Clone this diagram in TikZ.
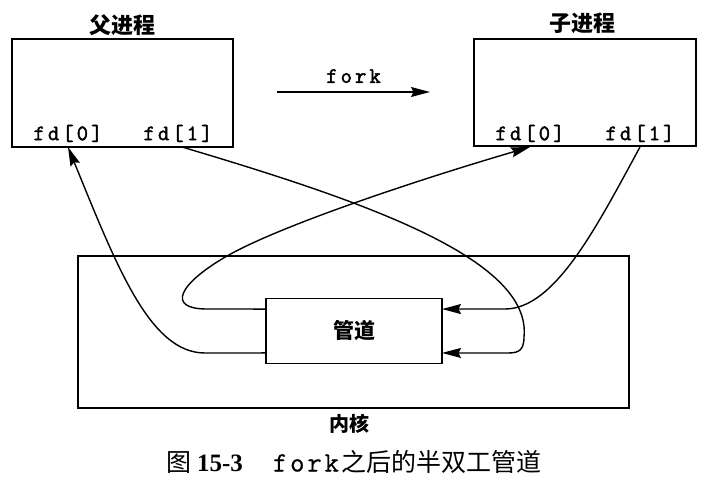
\documentclass[tikz,border=0pt]{standalone}
\usepackage{fontspec}
\newfontfamily\cjk{Noto Sans CJK SC}
\newfontfamily\code{Latin Modern Mono}[LetterSpace=14,FakeBold=2]
\newfontfamily\capcode{Latin Modern Mono}[LetterSpace=10,FakeBold=0.5]
\newfontfamily\capnum{Liberation Serif}
\usetikzlibrary{arrows.meta}

\begin{document}
\begin{tikzpicture}[x=1pt,y=1pt,line width=1.4pt,
  procbox/.style={draw,rectangle,inner sep=0pt,outer sep=0pt},
  proctitle/.style={font=\cjk\bfseries\fontsize{22}{24}\selectfont,inner sep=0pt},
  fdtext/.style={font=\code\fontsize{22}{24}\selectfont,
    anchor=south,inner xsep=0pt,inner ysep=5pt,outer sep=0pt},
  flow/.style={-{Stealth[length=19pt,width=10pt,inset=2.5pt]}}]
\useasboundingbox (0,0) rectangle (703,483);
% the two processes
\node[procbox,minimum width=221pt,minimum height=108pt] (par) at (122.5,390) {};
\node[procbox,minimum width=222pt,minimum height=107pt] (chi) at (585,390.5) {};
\node[proctitle] (partitle) at (122,458) {父进程};
\node[proctitle] (chititle) at (582,460) {子进程};
\node[fdtext] (pfd0) at (68,336) {fd[0]};
\node[fdtext] (pfd1) at (178,336) {fd[1]};
\node[fdtext] (cfd0) at (530,336) {fd[0]};
\node[fdtext] (cfd1) at (640,336) {fd[1]};
% fork
\coordinate (forka) at (277,391);
\coordinate (forkb) at (430,391);
\draw[flow] (forka) -- node[fdtext,inner ysep=0pt,above=9pt] (forklabel) {fork} (forkb);
% kernel and pipe
\node[procbox,minimum width=551pt,minimum height=152pt] (kern) at (353.5,151) {};
\node[procbox,minimum width=176pt,minimum height=65pt,font=\cjk\bfseries\fontsize{21}{23}\selectfont] (pipe) at (354,152) {管道};
\node[proctitle,font=\cjk\bfseries\fontsize{20}{22}\selectfont] (kernlabel) at (349,59) {内核};
% connectors
\draw[flow] ([xshift=4pt]pfd1.south) .. controls (360,283) and (532,225) .. (524,146)
  .. controls (524,130) and (516,130) .. (505,130) -- (pipe.-14);
\draw[flow] (pipe.166) -- (207,174) .. controls (165,174) and (180,200) .. (227,227)
  .. controls (285,260) and (434,308) .. (cfd0.south);
\draw[flow] (cfd1.south) .. controls (597,257) and (555,174) .. (505,174) -- (pipe.14);
\draw[flow] (pipe.194) -- (205,130) .. controls (150,130) and (117,216) .. (pfd0.south);
% caption
\node[font=\cjk\fontsize{25}{27}\selectfont,inner sep=0pt] (caption) at (354,21)
  {图 {\capnum\bfseries 15-3}\hspace{1.2em}{\capcode\fontsize{28}{30}\selectfont fork}\hspace{0.1em}之后的半双工管道};
\end{tikzpicture}
\end{document}
